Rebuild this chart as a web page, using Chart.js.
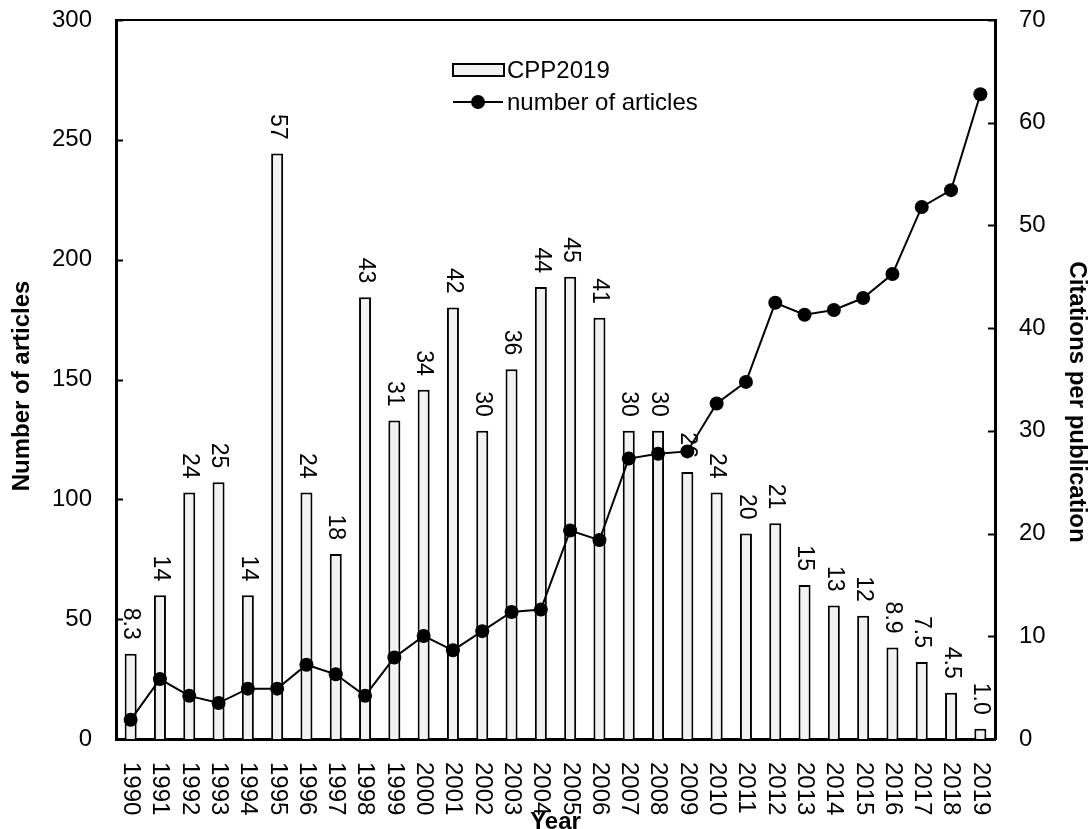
<!DOCTYPE html>
<html>
<head>
<meta charset="utf-8">
<title>CPP2019 and number of articles</title>
<script src="https://cdn.jsdelivr.net/npm/chart.js@4.4.1/dist/chart.umd.min.js"></script>
<style>
  html, body { margin: 0; padding: 0; background: #fff; }
  #wrap { width: 1091px; height: 829px; }
</style>
</head>
<body>
<div id="wrap"><canvas id="chart" width="1091" height="829"></canvas></div>
<script>
// ── Data ─────────────────────────────────────────────────
const years = ["1990", "1991", "1992", "1993", "1994", "1995", "1996", "1997", "1998", "1999",
               "2000", "2001", "2002", "2003", "2004", "2005", "2006", "2007", "2008", "2009",
               "2010", "2011", "2012", "2013", "2014", "2015", "2016", "2017", "2018", "2019"];
const articles = [8, 25, 18, 15, 21, 21, 31, 27, 18, 34,
                  43, 37, 45, 53, 54, 87, 83, 117, 119, 120,
                  140, 149, 182, 177, 179, 184, 194, 222, 229, 269];
const cpp = [8.3, 14, 24, 25, 14, 57, 24, 18, 43, 31,
             34, 42, 30, 36, 44, 45, 41, 30, 30, 26,
             24, 20, 21, 15, 13, 12, 8.9, 7.5, 4.5, 1.0];
const leftMax = 300, leftStep = 50;
const rightMax = 70, rightStep = 10;

// ── Style ────────────────────────────────────────────────
const FONT = "'Liberation Sans', Arial, Helvetica, sans-serif";
const BAR_FILL = "#f2f2f2";
Chart.defaults.font.family = FONT;
Chart.defaults.color = "#000";

function fmtCpp(v) { return v < 10 ? v.toFixed(1) : String(Math.round(v)); }

function rotText(ctx, text, x, y, angle, align) {
  ctx.save();
  ctx.translate(x, y);
  ctx.rotate(angle);
  ctx.textAlign = align;
  ctx.fillText(text, 0, 0);
  ctx.restore();
}

// y scales: fixed width, no extra padding for the end labels
function fitY(width) {
  return s => { s.width = width; s.paddingTop = 0; s.paddingBottom = 0; };
}

// ── Extras: bar labels, inward ticks, rotated year labels, titles, legend ──
const decor = {
  id: "decor",
  afterDatasetDraw(chart, args) {
    if (args.index !== 0) return; // labels go under the line
    const ctx = chart.ctx;
    ctx.save();
    ctx.font = `23px ${FONT}`;
    ctx.fillStyle = "#000";
    ctx.textBaseline = "middle";
    chart.getDatasetMeta(0).data.forEach((bar, i) => {
      rotText(ctx, fmtCpp(cpp[i]), bar.x, bar.y - 14, Math.PI / 2, "right");
    });
    ctx.restore();
  },
  afterDraw(chart) {
    const { ctx, chartArea: a, scales } = chart;
    ctx.save();
    ctx.strokeStyle = "#000";

    // top frame line
    ctx.lineWidth = 2;
    ctx.beginPath();
    ctx.moveTo(a.left, a.top);
    ctx.lineTo(a.right, a.top);
    ctx.stroke();

    // inward tick marks
    for (const t of scales.y.ticks) {
      const py = Math.round(scales.y.getPixelForValue(t.value)) + 0.5;
      ctx.beginPath(); ctx.moveTo(a.left, py); ctx.lineTo(a.left + 7, py); ctx.stroke();
    }
    for (const t of scales.y1.ticks) {
      const py = Math.round(scales.y1.getPixelForValue(t.value)) + 0.5;
      ctx.beginPath(); ctx.moveTo(a.right - 7, py); ctx.lineTo(a.right, py); ctx.stroke();
    }

    // year labels, turned clockwise
    ctx.fillStyle = "#000";
    ctx.font = `24px ${FONT}`;
    ctx.textBaseline = "middle";
    years.forEach((y, i) => {
      rotText(ctx, y, scales.x.getPixelForTick(i), a.bottom + 23, Math.PI / 2, "left");
    });

    // axis titles
    ctx.font = `bold 24px ${FONT}`;
    rotText(ctx, "Number of articles", 22, 386, -Math.PI / 2, "center");
    rotText(ctx, "Citations per publication", 1077, 402, Math.PI / 2, "center");
    ctx.textBaseline = "alphabetic";
    ctx.textAlign = "center";
    ctx.fillText("Year", (a.left + a.right) / 2, 829);

    // legend
    const lx = 453;
    ctx.fillStyle = BAR_FILL;
    ctx.lineWidth = 2;
    ctx.fillRect(lx, 64, 51, 12);
    ctx.strokeRect(lx, 64, 51, 12);
    ctx.beginPath();
    ctx.moveTo(lx, 102); ctx.lineTo(lx + 50, 102);
    ctx.stroke();
    ctx.fillStyle = "#000";
    ctx.beginPath();
    ctx.arc(lx + 25, 102, 7, 0, Math.PI * 2);
    ctx.fill();
    ctx.font = `24px ${FONT}`;
    ctx.textAlign = "left";
    ctx.textBaseline = "middle";
    ctx.fillText("CPP2019", lx + 54, 71);
    ctx.fillText("number of articles", lx + 54, 103);
    ctx.restore();
  }
};

// ── Chart ────────────────────────────────────────────────
new Chart(document.getElementById("chart"), {
  type: "bar",
  data: {
    labels: years,
    datasets: [
      {
        type: "bar",
        label: "CPP2019",
        data: cpp,
        yAxisID: "y1",
        backgroundColor: BAR_FILL,
        borderColor: "#000",
        borderWidth: 2,
        borderSkipped: "bottom",
        barPercentage: 0.41,
        categoryPercentage: 1,
        order: 1,
      },
      {
        type: "line",
        label: "number of articles",
        data: articles,
        yAxisID: "y",
        borderColor: "#000",
        borderWidth: 2,
        pointRadius: 7,
        pointBackgroundColor: "#000",
        pointBorderColor: "#000",
        pointBorderWidth: 0,
        tension: 0,
        order: 0,
      },
    ],
  },
  options: {
    responsive: false,
    animation: false,
    layout: { padding: { top: 20, left: 0, right: 0, bottom: 0 } },
    plugins: { legend: { display: false }, tooltip: { enabled: false } },
    scales: {
      x: {
        offset: true,
        grid: { display: false, drawTicks: false },
        border: { color: "#000", width: 3 },
        ticks: { display: false },
        afterFit: s => { s.height = 90; s.paddingLeft = 0; s.paddingRight = 0; },
      },
      y: {
        position: "left",
        min: 0, max: leftMax,
        grid: { display: false, drawTicks: false },
        border: { color: "#000", width: 3 },
        ticks: { stepSize: leftStep, padding: 24, font: { size: 24 }, color: "#000" },
        afterFit: fitY(116),
      },
      y1: {
        position: "right",
        min: 0, max: rightMax,
        grid: { display: false, drawTicks: false },
        border: { color: "#000", width: 3 },
        ticks: { stepSize: rightStep, padding: 24, font: { size: 24 }, color: "#000" },
        afterFit: fitY(96),
      },
    },
  },
  plugins: [decor],
});
</script>
</body>
</html>
